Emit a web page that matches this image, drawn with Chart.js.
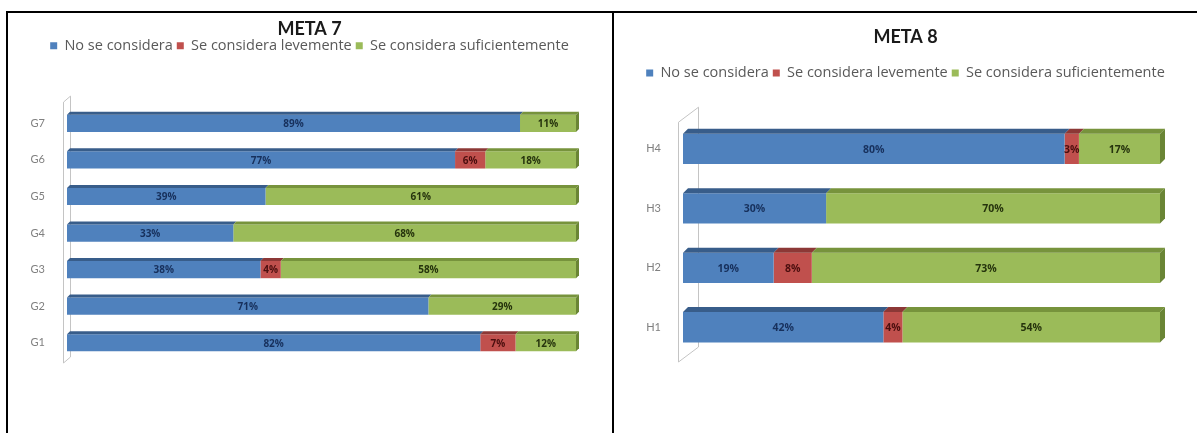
<!DOCTYPE html>
<html>
<head>
<meta charset="utf-8">
<script src="https://cdn.jsdelivr.net/npm/chart.js@4.4.0/dist/chart.umd.min.js"></script>
<style>
body{margin:0;background:#fff;}
#frame{position:absolute;left:0;top:0;width:1197px;height:433px;overflow:hidden;}
.line{position:absolute;background:#000;}
canvas{position:absolute;}
</style>
</head>
<body>
<div id="frame">
<div class="line" style="left:6px;top:11px;width:1191px;height:2px"></div>
<div class="line" style="left:6px;top:11px;width:2px;height:422px"></div>
<div class="line" style="left:612px;top:11px;width:2px;height:422px"></div>
<canvas id="c7" width="603" height="420" style="left:8px;top:13px"></canvas>
<canvas id="c8" width="583" height="420" style="left:614px;top:13px"></canvas>
</div>
<script>
// datos
const seriesNames=["No se considera","Se considera levemente","Se considera suficientemente"];
const gLabels=["G1","G2","G3","G4","G5","G6","G7"];
const gNo=[82,71,38,33,39,77,89];
const gLev=[7,0,4,0,0,6,0];
const gSuf=[12,29,58,68,61,18,11];
const hLabels=["H1","H2","H3","H4"];
const hNo=[42,19,30,80];
const hLev=[4,8,0,3];
const hSuf=[54,73,70,17];

const colors=["#4F81BD","#C0504D","#9BBB59"];
const topColors=["#385D8A","#8C3836","#77933C"];
const sideColors=["#2F4F75","#7A302E","#6A8535"];
const textColors=["#17305C","#4A0E0E","#26340D"];
const FONT="Lato";
const LEG_FONT="Open Sans";

// cara superior, lateral y etiquetas
const bar3d={
  id:"bar3d",
  beforeDatasetsDraw(chart,args,o){
    const a=chart.chartArea,c=chart.ctx;
    const fx=Math.round(a.left+o.front)+0.5,bx=Math.round(a.left+o.back)+0.5;
    const t=a.top+o.topOff,b=a.bottom+o.botOff;
    c.save();
    c.strokeStyle="#c4c4c4";c.lineWidth=1;
    c.beginPath();
    c.moveTo(bx,t-o.rise);c.lineTo(fx,t);c.lineTo(fx,b);
    c.lineTo(bx,b-o.rise);c.lineTo(bx,t-o.rise);
    c.stroke();
    c.restore();
  },
  afterDatasetsDraw(chart,args,o){
    const c=chart.ctx,d=o.depth;
    const n=chart.data.labels.length;
    c.save();
    for(let j=0;j<n;j++){
      let last=-1;
      chart.data.datasets.forEach((ds,i)=>{ if(ds.raw[j]>0) last=i; });
      chart.data.datasets.forEach((ds,i)=>{
        if(!(ds.raw[j]>0)) return;
        const p=chart.getDatasetMeta(i).data[j].getProps(["x","y","base","height"],true);
        const top=p.y-p.height/2,bot=p.y+p.height/2;
        const l=Math.min(p.x,p.base),r=Math.max(p.x,p.base);
        c.fillStyle=topColors[i];
        c.beginPath();
        c.moveTo(l,top);c.lineTo(l+d,top-d);c.lineTo(r+d,top-d);c.lineTo(r,top);c.closePath();
        c.fill();
        if(i===last){
          c.fillStyle=sideColors[i];
          c.beginPath();
          c.moveTo(r,top);c.lineTo(r+d,top-d);c.lineTo(r+d,bot-d);c.lineTo(r,bot);c.closePath();
          c.fill();
        }
        c.fillStyle=textColors[i];
        c.font="bold "+o.labelSize+"px "+LEG_FONT;
        c.textAlign="center";c.textBaseline="middle";
        c.fillText(ds.raw[j]+"%",(l+r)/2,p.y+1);
      });
    }
    c.restore();
  }
};

function makeChart(id,labels,series,cfg){
  const sums=labels.map((_,j)=>series.reduce((s,arr)=>s+arr[j],0));
  const datasets=series.map((arr,i)=>({
    label:seriesNames[i],
    data:arr.map((v,j)=>v*100/sums[j]),
    raw:arr,
    backgroundColor:colors[i],
    borderWidth:0,
    barPercentage:cfg.barPct,
    categoryPercentage:1
  }));
  return new Chart(document.getElementById(id),{
    type:"bar",
    data:{labels,datasets},
    plugins:[bar3d],
    options:{
      indexAxis:"y",
      responsive:false,
      animation:false,
      devicePixelRatio:1,
      layout:{padding:{left:0,right:0,top:0,bottom:cfg.padBottom}},
      scales:{
        x:{
          position:"top",stacked:true,min:0,max:100,
          ticks:{display:false},grid:{display:false},border:{display:false},
          afterFit:s=>{s.height=cfg.gapTop;}
        },
        y:{
          stacked:true,reverse:true,
          grid:{display:false},border:{display:false},
          ticks:{color:"#808080",font:{family:FONT,size:11},padding:cfg.tickPad},
          afterFit:s=>{s.width=cfg.axisW;}
        },
        yr:{
          type:"linear",position:"right",axis:"y",
          ticks:{display:false},grid:{display:false},border:{display:false},
          afterFit:s=>{s.width=cfg.padRight;}
        }
      },
      plugins:{
        tooltip:{enabled:false},
        title:{
          display:true,text:cfg.title,color:"#1a1a1a",
          font:{family:FONT,size:18,weight:"bold"},
          padding:{top:cfg.titleTop,bottom:cfg.titleBottom}
        },
        legend:{
          display:true,
          labels:{color:"#595959",boxWidth:7,boxHeight:7,padding:4,
            font:{family:LEG_FONT,size:14.5}}
        },
        bar3d:cfg.d3
      }
    }
  });
}

makeChart("c7",gLabels,[gNo,gLev,gSuf],{
  title:"META 7",titleTop:5,titleBottom:-5,gapTop:42,padBottom:72,
  axisW:59,padRight:35,tickPad:14,barPct:0.47,
  d3:{depth:3,front:-4,back:3,rise:6,topOff:-3,botOff:2,labelSize:10}
});
makeChart("c8",hLabels,[hNo,hLev,hSuf],{
  title:"META 8",titleTop:13,titleBottom:14.1,gapTop:29,padBottom:76,
  axisW:69,padRight:37,tickPad:14,barPct:0.51,
  d3:{depth:5,front:-5,back:15,rise:15,topOff:3,botOff:5,labelSize:10.5}
});
</script>
</body>
</html>
